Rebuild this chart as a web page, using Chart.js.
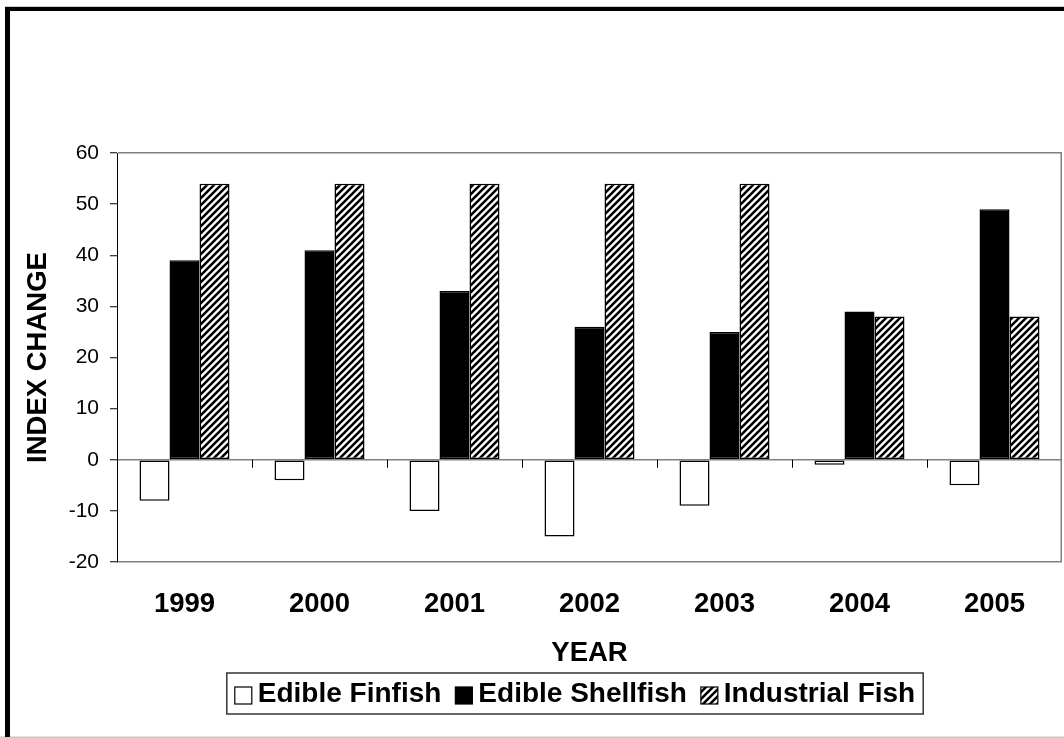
<!DOCTYPE html>
<html>
<head>
<meta charset="utf-8">
<script src="https://cdn.jsdelivr.net/npm/chart.js@4.4.0/dist/chart.umd.min.js"></script>
<style>
html,body{margin:0;padding:0;background:#fff;}
canvas{display:block;}
</style>
</head>
<body>
<canvas id="c" width="1064" height="738"></canvas>
<script>
// ---- data ----
const years = ['1999', '2000', '2001', '2002', '2003', '2004', '2005'];
const seriesNames = ['Edible Finfish', 'Edible Shellfish', 'Industrial Fish'];
const edibleFinfish = [-8, -4, -10, -15, -9, -1, -5];
const edibleShellfish = [39, 41, 33, 26, 25, 29, 49];
const industrialFish = [54, 54, 54, 54, 54, 28, 28];
const yMin = -20;
const yMax = 60;
const yStep = 10;
const yTitle = 'INDEX CHANGE';
const xTitle = 'YEAR';

const FONT = '"Liberation Sans", Arial, Helvetica, sans-serif';
const BOLD = 27.5;

function makeHatch() {
  const s = 7;
  const c = document.createElement('canvas');
  c.width = s; c.height = s;
  const g = c.getContext('2d');
  g.fillStyle = '#fff';
  g.fillRect(0, 0, s, s);
  g.strokeStyle = '#000';
  g.lineWidth = 2.6;
  g.beginPath();
  g.moveTo(-1, s + 1); g.lineTo(s + 1, -1);
  g.moveTo(-1, 1); g.lineTo(1, -1);
  g.moveTo(s - 1, s + 1); g.lineTo(s + 1, s - 1);
  g.stroke();
  return g.createPattern(c, 'repeat');
}
const hatch = makeHatch();

const plotFrame = {
  id: 'plotFrame',
  beforeDraw(chart) {
    const ctx = chart.ctx;
    ctx.save();
    ctx.fillStyle = '#fff';
    ctx.fillRect(0, 0, chart.width, chart.height);
    ctx.fillStyle = '#c8c8c8';
    ctx.fillRect(5, 6, chart.width - 5, 1);
    ctx.fillRect(0, chart.height - 1.5, chart.width, 1.5);
    ctx.fillStyle = '#000';
    ctx.fillRect(5, 7, 5, chart.height - 8);
    ctx.fillRect(5, 7, chart.width - 5, 4);
    ctx.restore();
  },
  afterDatasetsDraw(chart) {
    const {ctx, chartArea: a, scales: {x, y}} = chart;
    ctx.save();
    ctx.strokeStyle = '#808080';
    ctx.lineWidth = 1.5;
    ctx.beginPath();
    ctx.moveTo(a.right - 0.75, a.top);
    ctx.lineTo(a.right - 0.75, a.bottom);
    ctx.stroke();
    const y0 = y.getPixelForValue(0);
    ctx.strokeStyle = '#000';
    ctx.lineWidth = 1;
    ctx.beginPath();
    for (let i = 0; i < years.length - 1; i++) {
      const xb = Math.round((x.getPixelForTick(i) + x.getPixelForTick(i + 1)) / 2) + 0.5;
      ctx.moveTo(xb, y0);
      ctx.lineTo(xb, y0 + 8);
    }
    ctx.stroke();
    ctx.restore();
  }
};

const boxLegend = {
  id: 'boxLegend',
  afterDraw(chart, args, o) {
    const ctx = chart.ctx;
    ctx.save();
    ctx.font = 'bold ' + o.fontSize + 'px ' + FONT;
    const items = chart.data.datasets.map(ds => ({
      text: ds.label, fill: ds.backgroundColor, w: ctx.measureText(ds.label).width
    }));
    const total = items.reduce((s, it) => s + o.box + o.gap + it.w, 0) + o.spacing * (items.length - 1);
    let x = o.centerX - total / 2;
    ctx.strokeStyle = '#333';
    ctx.lineWidth = 1.5;
    ctx.strokeRect(x - o.padL, o.top, total + o.padL + o.padR, o.bottom - o.top);
    items.forEach(it => {
      ctx.fillStyle = it.fill;
      ctx.fillRect(x, o.boxY, o.box, o.box);
      ctx.strokeStyle = '#000';
      ctx.lineWidth = 1.2;
      ctx.strokeRect(x, o.boxY, o.box, o.box);
      ctx.fillStyle = '#000';
      ctx.textBaseline = 'middle';
      ctx.textAlign = 'left';
      ctx.fillText(it.text, x + o.box + o.gap, o.centerY);
      x += o.box + o.gap + it.w + o.spacing;
    });
    ctx.restore();
  }
};

const boldFont = {family: FONT, size: BOLD, weight: 'bold'};

new Chart(document.getElementById('c'), {
  type: 'bar',
  data: {
    labels: years,
    datasets: [
      {label: seriesNames[0], data: edibleFinfish, backgroundColor: '#ffffff', borderColor: '#000', borderWidth: 1.5, borderSkipped: false},
      {label: seriesNames[1], data: edibleShellfish, backgroundColor: '#000000', borderColor: '#000', borderWidth: 1.5, borderSkipped: false},
      {label: seriesNames[2], data: industrialFish, backgroundColor: hatch, borderColor: '#000', borderWidth: 1.5, borderSkipped: false}
    ]
  },
  options: {
    responsive: false,
    animation: false,
    devicePixelRatio: 1,
    layout: {padding: {left: 10, right: 2, top: 153, bottom: 66}},
    datasets: {bar: {categoryPercentage: 2 / 3, barPercentage: 1}},
    plugins: {
      legend: {display: false},
      tooltip: {enabled: false},
      boxLegend: {fontSize: 28, centerX: 575, centerY: 694, top: 673, bottom: 714, boxY: 687, box: 17, gap: 6, spacing: 14, padL: 8, padR: 8}
    },
    scales: {
      x: {
        grid: {display: false, drawTicks: false},
        border: {display: false},
        ticks: {padding: 26, color: '#000', font: boldFont, maxRotation: 0, autoSkip: false},
        title: {display: true, text: xTitle, color: '#000', font: boldFont, padding: {top: 0, bottom: 2.3}},
        afterFit(s) { s.height = 110; }
      },
      y: {
        min: yMin,
        max: yMax,
        ticks: {stepSize: yStep, padding: 11, color: '#000', font: {family: FONT, size: 21}},
        grid: {
          color: c => (c.tick && [yMin, 0, yMax].includes(c.tick.value)) ? '#808080' : 'rgba(0,0,0,0)',
          lineWidth: 1.5,
          tickColor: '#000',
          tickLength: 7,
          tickWidth: 1,
          drawTicks: true
        },
        border: {display: true, color: '#000', width: 1},
        title: {display: true, text: yTitle, color: '#000', font: boldFont, padding: {top: 12, bottom: 0}},
        afterFit(s) { s.width = 107; }
      }
    }
  },
  plugins: [plotFrame, boxLegend]
});
</script>
</body>
</html>
